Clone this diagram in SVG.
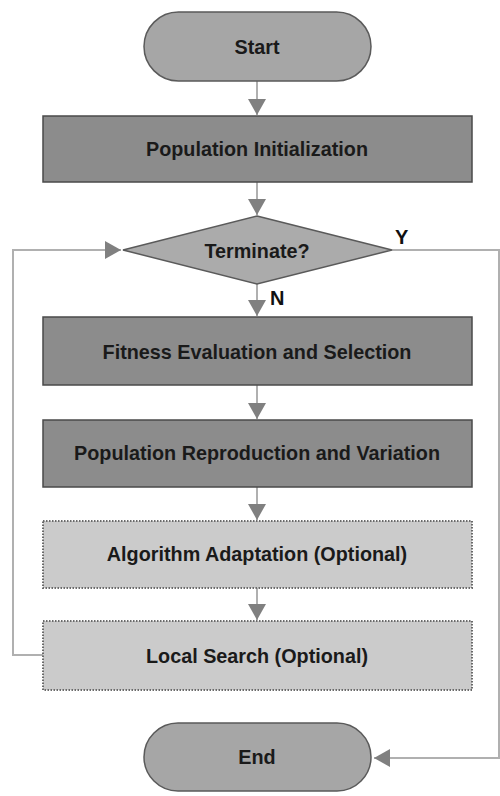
<svg xmlns="http://www.w3.org/2000/svg" width="500" height="796" viewBox="0 0 500 796">
<style>
.t{font-family:"Liberation Sans",Arial,sans-serif;font-weight:bold;font-size:19.8px;fill:#1a1a1a;text-anchor:middle;dominant-baseline:central}
.term{fill:#a6a6a6;stroke:#5a5a5a;stroke-width:1.5}
.box{fill:#8c8c8c;stroke:#4a4a4a;stroke-width:1.5}
.opt{fill:#cbcbcb;stroke:#6a6a6a;stroke-width:2;stroke-dasharray:1.5 1.5}
.dia{fill:#ababab;stroke:#5a5a5a;stroke-width:1.5}
.ln{fill:none;stroke:#b0b0b0;stroke-width:2}
.lbl{font-family:"Liberation Sans",Arial,sans-serif;font-weight:bold;font-size:20px;fill:#111}
</style>
<defs>
<marker id="a" viewBox="0 0 16 18" refX="16" refY="9" markerWidth="16" markerHeight="18" markerUnits="userSpaceOnUse" orient="auto">
<path d="M0,0 L16,9 L0,18 Z" fill="#808080"/>
</marker>
</defs>
<rect width="500" height="796" fill="#ffffff"/>
<g id="connectors">
<line class="ln" x1="257" y1="81" x2="257" y2="115" marker-end="url(#a)"/>
<line class="ln" x1="257" y1="182" x2="257" y2="215" marker-end="url(#a)"/>
<line class="ln" x1="257" y1="284" x2="257" y2="316" marker-end="url(#a)"/>
<line class="ln" x1="257" y1="385" x2="257" y2="419" marker-end="url(#a)"/>
<line class="ln" x1="257" y1="487" x2="257" y2="520" marker-end="url(#a)"/>
<line class="ln" x1="257" y1="588" x2="257" y2="620" marker-end="url(#a)"/>
<polyline class="ln" points="43,655 13,655 13,250 121,250" marker-end="url(#a)"/>
<polyline class="ln" points="392,250 499,250 499,758 374,758" marker-end="url(#a)"/>
<text class="lbl" x="395" y="244">Y</text>
<text class="lbl" x="270" y="305">N</text>
</g>
<g id="start">
<rect class="term" x="144" y="12" width="227" height="69" rx="34.5"/>
<text class="t" x="257" y="47">Start</text>
</g>
<g id="init">
<rect class="box" x="43" y="116" width="429" height="66"/>
<text class="t" x="257" y="149">Population Initialization</text>
</g>
<g id="terminate">
<polygon class="dia" points="257,216 392,250 257,284 123,250"/>
<text class="t" x="257" y="251">Terminate?</text>
</g>
<g id="fitness">
<rect class="box" x="43" y="317" width="429" height="68"/>
<text class="t" x="257" y="352">Fitness Evaluation and Selection</text>
</g>
<g id="reproduction">
<rect class="box" x="43" y="420" width="429" height="67"/>
<text class="t" x="257" y="453">Population Reproduction and Variation</text>
</g>
<g id="adaptation">
<rect class="opt" x="43" y="521" width="429" height="67"/>
<text class="t" x="257" y="554">Algorithm Adaptation (Optional)</text>
</g>
<g id="localsearch">
<rect class="opt" x="43" y="621" width="429" height="69"/>
<text class="t" x="257" y="656">Local Search (Optional)</text>
</g>
<g id="end">
<rect class="term" x="144" y="723" width="227" height="68" rx="34"/>
<text class="t" x="257" y="757">End</text>
</g>
</svg>
